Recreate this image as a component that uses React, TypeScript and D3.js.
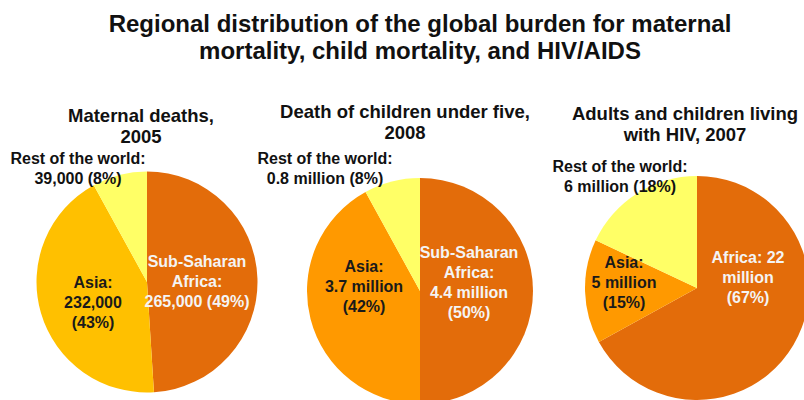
import * as d3 from "d3";

const titleLines = [
  "Regional distribution of the global burden for maternal",
  "mortality, child mortality, and HIV/AIDS",
];

const regions = ["Africa", "Asia", "Rest of the world"];

// shares in percent, clockwise from 12 o'clock
const maternalShares = [49, 43, 8];
const childShares = [50, 42, 8];
const hivShares = [67, 15, 18];

const maternalTitle = ["Maternal deaths,", "2005"];
const childTitle = ["Death of children under five,", "2008"];
const hivTitle = ["Adults and children living", "with HIV, 2007"];

const maternalLabels = [
  ["Sub-Saharan", "Africa:", "265,000 (49%)"],
  ["Asia:", "232,000", "(43%)"],
  ["Rest of the world:", "39,000 (8%)"],
];
const childLabels = [
  ["Sub-Saharan", "Africa:", "4.4 million", "(50%)"],
  ["Asia:", "3.7 million", "(42%)"],
  ["Rest of the world:", "0.8 million (8%)"],
];
const hivLabels = [
  ["Africa: 22", "million", "(67%)"],
  ["Asia:", "5 million", "(15%)"],
  ["Rest of the world:", "6 million (18%)"],
];

const AFRICA = "#E36C0A";
const REST = "#FFFF66";

interface PieSpec {
  shares: number[];
  title: string[];
  labels: string[][];
  colors: string[];
  cx: number;
  cy: number;
  r: number;
  titlePos: [number, number];
  labelPos: [number, number][];
  labelFill: string[];
}

const pies: PieSpec[] = [
  {
    shares: maternalShares,
    title: maternalTitle,
    labels: maternalLabels,
    colors: [AFRICA, "#FFC000", REST],
    cx: 147,
    cy: 282,
    r: 110.5,
    titlePos: [141, 122],
    labelPos: [
      [197, 267],
      [93, 288],
      [78, 164],
    ],
    labelFill: ["#F4F4F4", "#1A1A1A", "#111"],
  },
  {
    shares: childShares,
    title: childTitle,
    labels: childLabels,
    colors: [AFRICA, "#FF9900", REST],
    cx: 420,
    cy: 291,
    r: 113,
    titlePos: [405, 118],
    labelPos: [
      [469, 258],
      [364, 272],
      [325, 164],
    ],
    labelFill: ["#F4F4F4", "#1A1A1A", "#111"],
  },
  {
    shares: hivShares,
    title: hivTitle,
    labels: hivLabels,
    colors: [AFRICA, "#FF9900", REST],
    cx: 697,
    cy: 288,
    r: 112,
    titlePos: [685, 120],
    labelPos: [
      [748, 263],
      [624, 268],
      [620, 172],
    ],
    labelFill: ["#F4F4F4", "#1A1A1A", "#111"],
  },
];

const font = "'Liberation Sans', Arial, sans-serif";

function Pie({ spec }: { spec: PieSpec }) {
  const slices = d3
    .pie<number>()
    .sort(null)
    .value((d) => d)(spec.shares);
  const arc = d3
    .arc<d3.PieArcDatum<number>>()
    .innerRadius(0)
    .outerRadius(spec.r);

  return (
    <g>
      <g transform={`translate(${spec.cx},${spec.cy})`}>
        {slices.map((s, i) => (
          <path key={regions[i]} d={arc(s) || ""} fill={spec.colors[i]} />
        ))}
      </g>
      <text
        x={spec.titlePos[0]}
        y={spec.titlePos[1]}
        textAnchor="middle"
        fontSize={18.5}
        fontWeight="bold"
        fill="#111"
      >
        {spec.title.map((t, j) => (
          <tspan key={j} x={spec.titlePos[0]} dy={j === 0 ? 0 : 21}>
            {t}
          </tspan>
        ))}
      </text>
      {spec.labels.map((lines, i) => (
        <text
          key={i}
          x={spec.labelPos[i][0]}
          y={spec.labelPos[i][1]}
          textAnchor="middle"
          fontSize={16}
          fontWeight="bold"
          fill={spec.labelFill[i]}
        >
          {lines.map((t, j) => (
            <tspan key={j} x={spec.labelPos[i][0]} dy={j === 0 ? 0 : 20}>
              {t}
            </tspan>
          ))}
        </text>
      ))}
    </g>
  );
}

export default function App() {
  return (
    <svg
      width={804}
      height={400}
      style={{ position: "absolute", left: 0, top: 0, background: "#fff" }}
      fontFamily={font}
    >
      <text
        x={420}
        y={32}
        textAnchor="middle"
        fontSize={24}
        fontWeight="bold"
        fill="#111"
      >
        {titleLines.map((t, j) => (
          <tspan key={j} x={420} dy={j === 0 ? 0 : 27}>
            {t}
          </tspan>
        ))}
      </text>
      {pies.map((p, i) => (
        <Pie key={i} spec={p} />
      ))}
    </svg>
  );
}
